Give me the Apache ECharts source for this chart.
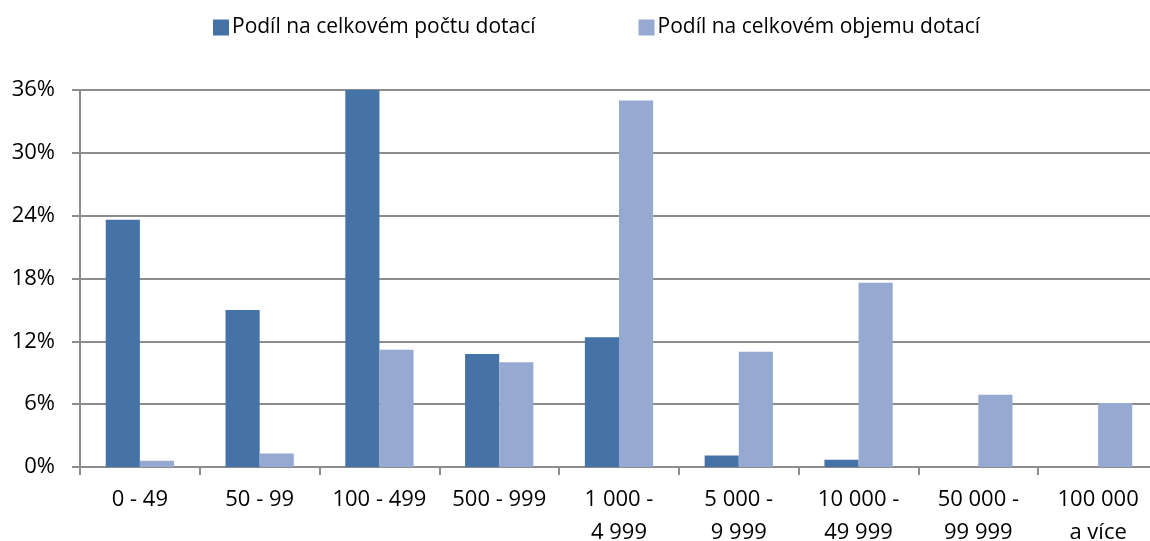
<!DOCTYPE html>
<html>
<head>
<meta charset="utf-8">
<script src="https://cdn.jsdelivr.net/npm/echarts@6/dist/echarts.min.js"></script>
<style>
html,body{margin:0;padding:0;background:#fff;}
#chart{width:1150px;height:541px;}
</style>
</head>
<body>
<div id="chart"></div>
<script>
var categories = ['0 - 49', '50 - 99', '100 - 499', '500 - 999', '1 000 -\n4 999', '5 000 -\n9 999', '10 000 -\n49 999', '50 000 -\n99 999', '100 000\na více'];
var seriesNames = ['Podíl na celkovém počtu dotací', 'Podíl na celkovém objemu dotací'];
var countShare = [23.6, 15.0, 36.0, 10.8, 12.4, 1.1, 0.7, 0, 0];
var volumeShare = [0.6, 1.3, 11.2, 10.0, 35.0, 11.0, 17.6, 6.9, 6.1];
var yTicks = {min: 0, max: 36, interval: 6};

var FONT = '"Open Sans", "Noto Sans", sans-serif';
var GRID_COLOR = '#8c8c8c';

var chart = echarts.init(document.getElementById('chart'), null, {renderer: 'canvas'});
chart.setOption({
  animation: false,
  textStyle: {fontFamily: FONT},
  legend: {
    left: 213,
    top: 17,
    padding: 0,
    itemWidth: 16,
    itemHeight: 16,
    itemGap: 103,
    icon: 'rect',
    textStyle: {fontFamily: FONT, fontSize: 21, color: '#000', padding: [0, 0, 0, -2]},
    data: seriesNames
  },
  grid: {left: 80, top: 90, width: 1078, bottom: 74, containLabel: false, outerBoundsMode: 'none'},
  xAxis: {
    type: 'category',
    data: categories,
    axisLine: {lineStyle: {color: GRID_COLOR, width: 2}},
    axisTick: {show: true, length: 8, lineStyle: {color: GRID_COLOR, width: 2}},
    axisLabel: {
      interval: 0,
      fontFamily: FONT,
      fontSize: 22,
      color: '#000',
      lineHeight: 33,
      margin: 16
    }
  },
  yAxis: {
    type: 'value',
    min: yTicks.min,
    max: yTicks.max,
    interval: yTicks.interval,
    axisLine: {show: true, lineStyle: {color: GRID_COLOR, width: 2}},
    axisTick: {show: true, length: 8, lineStyle: {color: GRID_COLOR, width: 2}},
    splitLine: {lineStyle: {color: GRID_COLOR, width: 2}},
    axisLabel: {
      formatter: '{value}%',
      fontFamily: FONT,
      fontSize: 22,
      color: '#000',
      margin: 25
    }
  },
  series: [
    {
      name: seriesNames[0],
      type: 'bar',
      data: countShare,
      barGap: '0%',
      barCategoryGap: '43%',
      itemStyle: {color: '#4572A7'}
    },
    {
      name: seriesNames[1],
      type: 'bar',
      data: volumeShare,
      barGap: '0%',
      barCategoryGap: '43%',
      itemStyle: {color: '#95A9D1'}
    }
  ]
});
</script>
</body>
</html>
